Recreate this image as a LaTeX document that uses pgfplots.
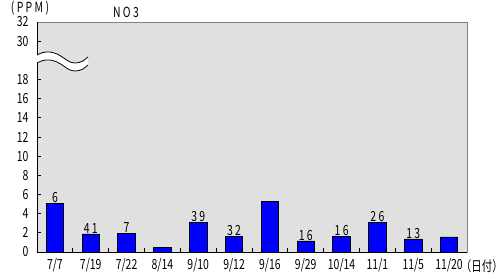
\documentclass[border=0pt]{standalone}
\usepackage{pgfplots}
\pgfplotsset{compat=1.18}
\usepackage{fontspec}
\setmainfont{Noto Sans CJK JP}[FakeStretch=0.75]
\definecolor{bgray}{RGB}{224,224,224}
\definecolor{fgray}{RGB}{128,128,128}
\definecolor{barblue}{RGB}{0,0,255}
\newcommand{\lf}{\fontsize{14}{15}\selectfont}
\begin{document}
\begin{tikzpicture}[x=1bp,y=1bp]
\path[use as bounding box] (-37,-26) rectangle (467,252);
\begin{axis}[
  at={(0,0)}, anchor=south west,
  scale only axis, width=430bp, height=230bp,
  xmin=-0.5, xmax=11.5, ymin=0, ymax=24,
  axis background/.style={fill=bgray},
  axis line style={draw=fgray, line width=0.8pt},
  xtick={0,...,11},
  xticklabels={7/7,7/19,7/22,8/14,9/10,9/12,9/16,9/29,10/14,11/1,11/5,11/20},
  major x tick style={draw=none},
  minor xtick={0.5,1.5,...,10.5},
  minor x tick style={black, line width=0.8pt},
  minor tick length=4bp,
  ytick={0,2,4,6,8,10,12,14,16,18,22,24},
  yticklabels={0,2,4,6,8,10,12,14,16,18,30,32},
  major y tick style={black, line width=0.8pt},
  major tick length=4bp,
  tick align=inside,
  ytick pos=left, xtick pos=bottom,
  /pgf/number format/assume math mode=true,
  tick label style={font=\lf},
  xticklabel style={yshift=-3bp},
  yticklabel style={xshift=-5bp},
  clip=false,
  point meta=explicit symbolic,
  nodes near coords,
  every node near coord/.append style={font=\lf, inner sep=1pt, yshift=-1bp},
  after end axis/.code={
    \draw[black, line width=0.8pt] (rel axis cs:0,1) -- (rel axis cs:0,0) -- (rel axis cs:1,0);
  },
]
\addplot[ybar, bar width=17.5bp, fill=barblue, draw=black, line width=0.8pt] coordinates {
  (0,5.1) [6]
  (1,1.88) [4\,1]
  (2,1.98) [7]
  (3,0.52) [{}]
  (4,3.13) [3\,9]
  (5,1.67) [3\,2]
  (6,5.32) [{}]
  (7,1.15) [1\,6]
  (8,1.67) [1\,6]
  (9,3.13) [2\,6]
  (10,1.36) [1\,3]
  (11,1.57) [{}]
};
\end{axis}
% axis break symbol
\fill[white] plot[smooth] coordinates {(0,197) (6,199.5) (13,200) (20,198) (26,194.5) (32,190.5) (38,189) (45,190.5) (51,195)}
  -- plot[smooth] coordinates {(51,187) (45,182.5) (38,181) (32,182.5) (26,186.5) (20,190) (13,192) (6,191.5) (0,189)} -- cycle;
\draw[black, line width=0.8pt] plot[smooth] coordinates {(0,197) (6,199.5) (13,200) (20,198) (26,194.5) (32,190.5) (38,189) (45,190.5) (51,195)};
\draw[black, line width=0.8pt] plot[smooth] coordinates {(0,189) (6,191.5) (13,192) (20,190) (26,186.5) (32,182.5) (38,181) (45,182.5) (51,187)};
\node[font=\lf] at (-7,244) {(\,P\,P\,M\,)};
\node[font=\lf] at (89,240) {N\,O\,3};
\node[font=\lf, inner sep=0pt, anchor=east] at (466,-14.5) {（日付）};
\end{tikzpicture}
\end{document}
